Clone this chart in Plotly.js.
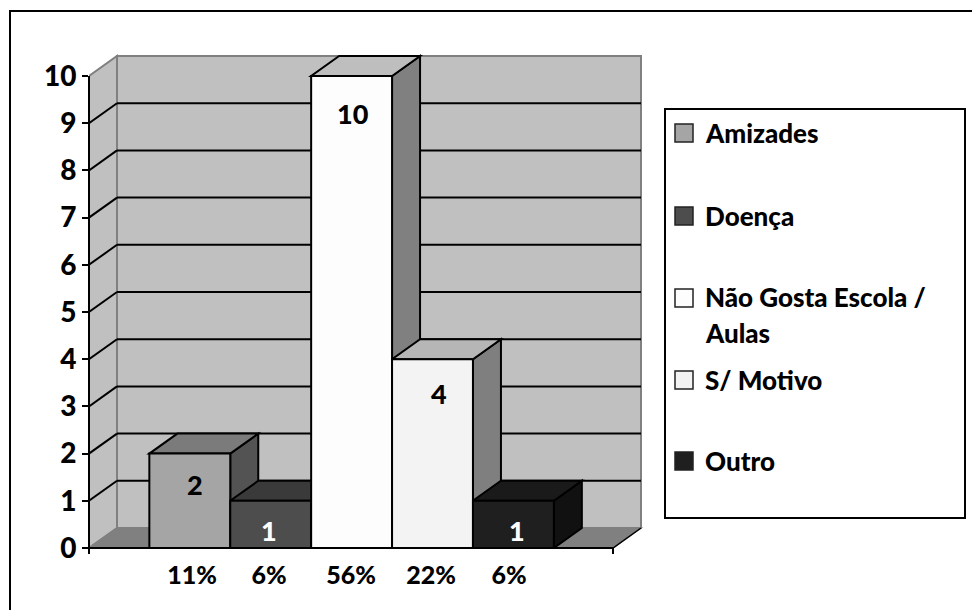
<!DOCTYPE html>
<html><head><meta charset="utf-8">
<script src="https://cdn.plot.ly/plotly-3.0.1.min.js"></script>
<style>html,body{margin:0;padding:0;background:#fff}#c{width:972px;height:610px}</style>
</head><body><div id="c"></div>
<script>
const categories=['Amizades','Doença','Não Gosta Escola / Aulas','S/ Motivo','Outro'];
const values=[2,1,10,4,1];
const percents=['11%','6%','56%','22%','6%'];
const legendLines=[['Amizades'],['Doença'],['Não Gosta Escola /','Aulas'],['S/ Motivo'],['Outro']];
const frontColors=['#a5a5a5','#4d4d4d','#fdfdfd','#f3f3f3','#1f1f1f'];
const topColors=['#7b7b7b','#3a3a3a','#bebebe','#b6b6b6','#1a1a1a'];
const sideColors=['#535353','#272727','#808080','#7f7f7f','#111111'];
const labelColors=['#000','#fff','#000','#000','#fff'];
const yTicks=[0,1,2,3,4,5,6,7,8,9,10];

const FONT='Lato, "Open Sans", sans-serif';
const W=972,H=610,ML=89,MR=646,MT=50,MB=548;
const PW=MR-ML,PH=MB-MT;
const unitX=80.9,unitY=47.2,depthPxX=28,depthPxY=20,centerPx=189.8;
const toX=p=>(p-centerPx)/unitX, toY=p=>(MB-p)/unitY;
const xMin=toX(ML),xMax=toX(MR),yMax=toY(MT);
const wallRight=toX(641),wallTop=toY(56);
const dx=depthPxX/unitX,dy=depthPxY/unitY;
const xFront=wallRight-dx,bw=1;
const px=p=>(p-ML)/PW, py=p=>(MB-p)/PH;

function poly(pts,fill,line,width,layer){
  const path='M'+pts.map(p=>p[0]+','+p[1]).join('L')+'Z';
  return {type:'path',path,xref:'x',yref:'y',fillcolor:fill,layer:layer||'below',line:{color:line,width:width==null?2:width}};
}
function seg(x0,y0,x1,y1,color,width){
  return {type:'line',xref:'x',yref:'y',x0,y0,x1,y1,layer:'below',line:{color,width}};
}
const shapes=[];
// walls and floor
shapes.push(poly([[xMin,0],[xMin+dx,dy],[xMin+dx,wallTop],[xMin,10]],'#c0c0c0','#808080',2));
shapes.push(poly([[xMin+dx,dy],[wallRight,dy],[wallRight,wallTop],[xMin+dx,wallTop]],'#c0c0c0','#808080',2));
yTicks.slice(1,-1).forEach(v=>{
  shapes.push(seg(xMin+dx,v+dy,wallRight,v+dy,'#000',2));
  shapes.push(seg(xMin,v,xMin+dx,v+dy,'#000',2));
});
shapes.push(poly([[xMin,0],[xFront,0],[wallRight,dy],[xMin+dx,dy]],'#808080','#808080',1.5));
shapes.push(seg(xFront,0,wallRight,dy,'#000',1.5));
// bar depth faces, painted left to right
values.forEach((v,i)=>{
  const l=i-bw/2,r=i+bw/2;
  shapes.push(poly([[r,0],[r+dx,dy],[r+dx,v+dy],[r,v]],sideColors[i],'#000'));
  shapes.push(poly([[l,v],[r,v],[r+dx,v+dy],[l+dx,v+dy]],topColors[i],'#000'));
});
// axes
const axisLine={color:'#000',width:2};
shapes.push({type:'line',xref:'paper',yref:'y',x0:0,x1:0,y0:0,y1:10,layer:'above',line:axisLine});
shapes.push({type:'line',xref:'x',yref:'paper',x0:xMin,x1:xFront,y0:0,y1:0,layer:'above',line:axisLine});
shapes.push({type:'line',xref:'paper',yref:'paper',x0:0,x1:0,y0:0,y1:py(554),layer:'above',line:axisLine});
shapes.push({type:'line',xref:'x',yref:'paper',x0:xFront,x1:xFront,y0:0,y1:py(554),layer:'above',line:axisLine});
// outer frame and legend box
const rect=(a,b,c,d,w)=>({type:'rect',xref:'paper',yref:'paper',x0:px(a),x1:px(c),y0:py(d),y1:py(b),layer:'above',fillcolor:'rgba(0,0,0,0)',line:{color:'#000',width:w}});
shapes.push(rect(10,11,990,630,2));
shapes.push(rect(665,109,965,518,2));

const annotations=[];
// data labels, placed where the reference puts them
const labelPx=[195,269,353,439,517], labelPy=[484,530,113,393,530];
values.forEach((v,i)=>{
  annotations.push({x:toX(labelPx[i]),y:toY(labelPy[i]),xref:'x',yref:'y',text:String(v),showarrow:false,yanchor:'middle',
    font:{family:FONT,size:27,weight:900,color:labelColors[i]}});
});
// legend
const swatchY=[133,216,298,380,461];
const lineY=[133,216,297,333,380,461];
let li=0;
categories.forEach((c,i)=>{
  const s=swatchY[i];
  shapes.push({type:'rect',xref:'paper',yref:'paper',x0:px(675),x1:px(693),y0:py(s+9),y1:py(s-9),layer:'above',fillcolor:frontColors[i],line:{color:'#222',width:1.5}});
  legendLines[i].forEach(t=>{
    annotations.push({x:px(703),y:py(lineY[li]),xref:'paper',yref:'paper',xanchor:'left',yanchor:'middle',showarrow:false,
      text:t,font:{family:FONT,size:26,weight:900,color:'#000'},align:'left'});
    li++;
  });
});

const traces=categories.map((c,i)=>({
  type:'bar',name:c,x:[i],y:[values[i]],width:bw,
  marker:{color:frontColors[i],line:{color:'#000',width:2}},
  hoverinfo:'name+y',showlegend:false
}));

const labelTickPx=[192,269,351,431,509];
const layout={
  width:W,height:H,margin:{l:ML,r:W-MR,t:MT,b:H-MB,pad:0},
  paper_bgcolor:'#fff',plot_bgcolor:'rgba(0,0,0,0)',barmode:'overlay',showlegend:false,
  font:{family:FONT,color:'#000'},
  xaxis:{range:[xMin,xMax],tickmode:'array',tickvals:labelTickPx.map(toX),ticktext:percents,
    ticks:'',showgrid:false,zeroline:false,showline:false,ticklen:0,ticklabelstandoff:10,
    tickfont:{family:FONT,size:25,weight:900,color:'#000'}},
  yaxis:{range:[0,yMax],tickmode:'array',tickvals:yTicks,ticktext:yTicks.map(String),
    ticks:'outside',ticklen:6,tickwidth:2,tickcolor:'#000',showgrid:false,zeroline:false,showline:false,
    tickfont:{family:FONT,size:28,weight:900,color:'#000'}},
  shapes,annotations
};
Plotly.newPlot('c',traces,layout,{displayModeBar:false,staticPlot:true});
</script></body></html>
